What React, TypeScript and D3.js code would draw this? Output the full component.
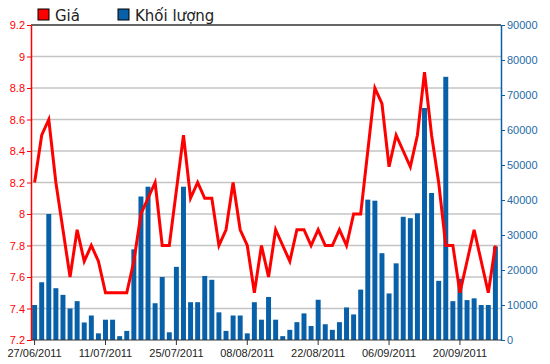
import React, { useEffect, useRef } from "react";
import * as d3 from "d3";

// trading days (02/09 holiday skipped)
const dates = [
  "27/06/2011", "28/06/2011", "29/06/2011", "30/06/2011", "01/07/2011",
  "04/07/2011", "05/07/2011", "06/07/2011", "07/07/2011", "08/07/2011",
  "11/07/2011", "12/07/2011", "13/07/2011", "14/07/2011", "15/07/2011",
  "18/07/2011", "19/07/2011", "20/07/2011", "21/07/2011", "22/07/2011",
  "25/07/2011", "26/07/2011", "27/07/2011", "28/07/2011", "29/07/2011",
  "01/08/2011", "02/08/2011", "03/08/2011", "04/08/2011", "05/08/2011",
  "08/08/2011", "09/08/2011", "10/08/2011", "11/08/2011", "12/08/2011",
  "15/08/2011", "16/08/2011", "17/08/2011", "18/08/2011", "19/08/2011",
  "22/08/2011", "23/08/2011", "24/08/2011", "25/08/2011", "26/08/2011",
  "29/08/2011", "30/08/2011", "31/08/2011", "01/09/2011", "05/09/2011",
  "06/09/2011", "07/09/2011", "08/09/2011", "09/09/2011", "12/09/2011",
  "13/09/2011", "14/09/2011", "15/09/2011", "16/09/2011", "19/09/2011",
  "20/09/2011", "21/09/2011", "22/09/2011", "23/09/2011", "26/09/2011",
  "27/09/2011",
];

const price = [
  8.2, 8.5, 8.6, 8.2, 7.9, 7.6, 7.9, 7.7, 7.8, 7.7,
  7.5, 7.5, 7.5, 7.5, 7.7, 8.0, 8.1, 8.2, 7.8, 7.8,
  8.15, 8.5, 8.1, 8.2, 8.1, 8.1, 7.8, 7.9, 8.2, 7.9,
  7.8, 7.5, 7.8, 7.6, 7.9, 7.8, 7.7, 7.9, 7.9, 7.8,
  7.9, 7.8, 7.8, 7.9, 7.8, 8.0, 8.0, 8.4, 8.8, 8.7,
  8.3, 8.5, 8.4, 8.3, 8.5, 8.9, 8.5, 8.2, 7.8, 7.8,
  7.5, 7.7, 7.9, 7.7, 7.5, 7.8,
];

const volume = [
  10000, 16500, 36000, 14800, 12900, 9000, 11100, 5000, 7000, 1900,
  5800, 5800, 1100, 2600, 25900, 41000, 43800, 10500, 18000, 2200,
  20900, 43800, 10800, 10800, 18300, 17200, 7900, 2600, 7000, 7000,
  1900, 10800, 5800, 12300, 5800, 1100, 2900, 5100, 7600, 4000,
  11500, 4500, 2900, 5100, 9300, 7300, 14400, 40100, 39800, 24800,
  13300, 21900, 35200, 34800, 36200, 66300, 42000, 16900, 75200, 11100,
  17500, 11400, 11900, 10000, 10000, 26700,
];

const dateTicks = [
  "27/06/2011", "11/07/2011", "25/07/2011", "08/08/2011",
  "22/08/2011", "06/09/2011", "20/09/2011",
];
const priceTicks = [7.2, 7.4, 7.6, 7.8, 8, 8.2, 8.4, 8.6, 8.8, 9, 9.2];
const volumeTicks = [0, 10000, 20000, 30000, 40000, 50000, 60000, 70000, 80000, 90000];

const legend = [
  { label: "Giá", color: "#ff0000" },
  { label: "Khối lượng", color: "#0860a8" },
];

const App = () => {
  const ref = useRef<SVGSVGElement>(null);

  useEffect(() => {
    const width = 550;
    const height = 364;
    const left = 31;
    const right = 501;
    const top = 25;
    const bottom = 340;
    const font = "'Liberation Sans', Arial, sans-serif";

    const svg = d3.select(ref.current);
    svg.selectAll("*").remove();
    svg.attr("width", width).attr("height", height);

    const x = d3.scaleBand<string>().domain(dates).range([left - 1, right - 1]).padding(0.3);
    const yP = d3.scaleLinear().domain([7.2, 9.2]).range([bottom, top]);
    const yV = d3.scaleLinear().domain([0, 90000]).range([bottom, top]);

    // grid
    svg
      .append("g")
      .selectAll("line")
      .data(priceTicks.slice(1, -1))
      .enter()
      .append("line")
      .attr("x1", left)
      .attr("x2", right)
      .attr("y1", (d) => yP(d))
      .attr("y2", (d) => yP(d))
      .attr("stroke", "#c4c4c4")
      .attr("stroke-width", 1.5);

    // bars
    svg
      .append("g")
      .selectAll("rect")
      .data(volume)
      .enter()
      .append("rect")
      .attr("x", (d, i) => x(dates[i])!)
      .attr("y", (d) => yV(d))
      .attr("width", x.bandwidth())
      .attr("height", (d) => bottom - yV(d))
      .attr("fill", "#0860a8");

    // price line
    const line = d3
      .line<number>()
      .x((d, i) => x(dates[i])! + x.bandwidth() / 2)
      .y((d) => yP(d));
    svg
      .append("path")
      .datum(price)
      .attr("d", line)
      .attr("fill", "none")
      .attr("stroke", "#ff0000")
      .attr("stroke-width", 3)
      .attr("stroke-linejoin", "miter");

    // frame top / bottom
    svg.append("line").attr("x1", left).attr("x2", right).attr("y1", top).attr("y2", top)
      .attr("stroke", "#333").attr("stroke-width", 1.5);
    svg.append("line").attr("x1", left).attr("x2", right).attr("y1", bottom).attr("y2", bottom)
      .attr("stroke", "#333").attr("stroke-width", 1);

    // left axis
    const gl = svg
      .append("g")
      .attr("transform", `translate(${left},0)`)
      .call(d3.axisLeft(yP).tickValues(priceTicks).tickSize(4).tickSizeOuter(0).tickFormat(d3.format("")));
    gl.select(".domain").attr("stroke", "#ff0000").attr("stroke-width", 1.5);
    gl.selectAll("line").attr("stroke", "#ff0000");
    gl.selectAll("text").attr("fill", "#ff0000").style("font-family", font).style("font-size", "11px").attr("x", -6);

    // right axis
    const gr = svg
      .append("g")
      .attr("transform", `translate(${right},0)`)
      .call(d3.axisRight(yV).tickValues(volumeTicks).tickSize(4).tickSizeOuter(0).tickFormat(d3.format("d")));
    gr.select(".domain").attr("stroke", "#0860a8").attr("stroke-width", 1.5);
    gr.selectAll("line").attr("stroke", "#0860a8");
    gr.selectAll("text").attr("fill", "#1e6aa8").style("font-family", font).style("font-size", "11px").attr("x", 6);

    // bottom axis
    const gb = svg
      .append("g")
      .attr("transform", `translate(0,${bottom})`)
      .call(
        d3.axisBottom(x).tickValues(dateTicks).tickSize(5).tickSizeOuter(0)
      );
    gb.select(".domain").remove();
    gb.selectAll("line").attr("stroke", "#333");
    gb.selectAll("text").attr("fill", "#222").style("font-family", font).style("font-size", "11px").attr("y", 9);

    // legend
    const lg = svg.append("g").selectAll("g").data(legend).enter().append("g")
      .attr("transform", (d, i) => `translate(${i === 0 ? 38 : 118},9)`);
    lg.append("rect").attr("width", 11).attr("height", 11)
      .attr("fill", (d) => d.color).attr("stroke", "#000").attr("stroke-width", 1);
    lg.append("text").attr("x", 17).attr("y", 11.5).text((d) => d.label)
      .style("font-family", "Tahoma, 'DejaVu Sans', sans-serif").style("font-size", "15px").attr("fill", "#222");
  }, []);

  return <svg ref={ref} style={{ position: "absolute", left: 0, top: 0 }}></svg>;
};

export default App;
